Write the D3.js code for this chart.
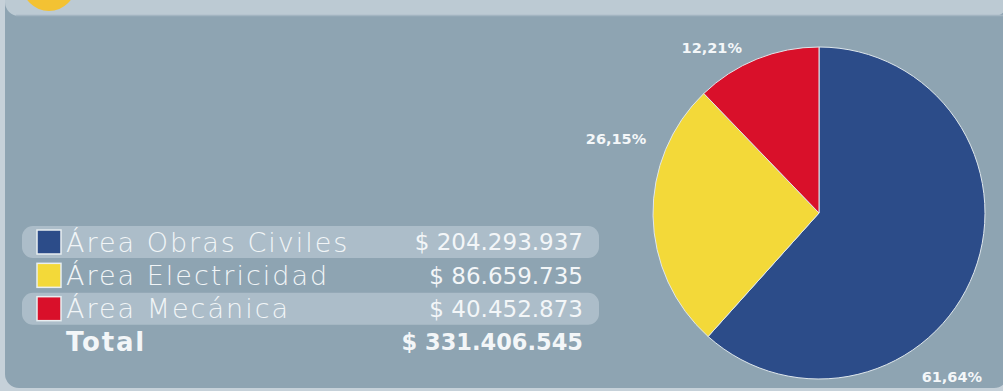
<!DOCTYPE html>
<html>
<head>
<meta charset="utf-8">
<script src="https://cdn.jsdelivr.net/npm/d3@7"></script>
<style>
  body { margin: 0; background: #c9d4db; }
  svg { display: block; }
</style>
</head>
<body>
<div id="container"></div>
<script>
// data
let categories = ["Área Obras Civiles", "Área Electricidad", "Área Mecánica"];
let amounts = [204293937, 86659735, 40452873];
let amountLabels = ["$ 204.293.937", "$ 86.659.735", "$ 40.452.873"];
let percentLabels = ["61,64%", "26,15%", "12,21%"];
let totalLabel = "Total";
let totalAmountLabel = "$ 331.406.545";

let colors = ["#2c4c89", "#f3d939", "#d9102a"];

let W = 1003, H = 391;

let viz = d3.select("#container")
  .append("svg")
    .attr("width", W)
    .attr("height", H)
  ;

// panel + header
viz.append("rect")
    .attr("x", 0).attr("y", 0).attr("width", W).attr("height", H)
    .attr("fill", "#c6d1d9");
viz.append("rect")
    .attr("x", 5).attr("y", -20).attr("width", W).attr("height", 408)
    .attr("rx", 14)
    .attr("fill", "#8ea4b2");
viz.append("rect")
    .attr("x", 5).attr("y", -30).attr("width", W).attr("height", 46)
    .attr("rx", 14)
    .attr("fill", "#bccad3");
viz.append("line")
    .attr("x1", 16).attr("x2", W).attr("y1", 15.5).attr("y2", 15.5)
    .attr("stroke", "#a3b5c1").attr("stroke-width", 1.5);
viz.append("circle")
    .attr("cx", 49).attr("cy", -16).attr("r", 27)
    .attr("fill", "#f3c233");

// pie
let cx = 819, cy = 213, radius = 166;

let pie = d3.pie().sort(null).value(d => d);
let arcs = pie(amounts);
let arc = d3.arc().innerRadius(0).outerRadius(radius);

let pieG = viz.append("g")
    .attr("transform", "translate(" + cx + "," + cy + ")");

pieG.selectAll("path").data(arcs).enter()
  .append("path")
    .attr("d", arc)
    .attr("fill", (d, i) => colors[i])
    .attr("stroke", "#dfe7ec")
    .attr("stroke-width", 1)
  ;

// label placement: rotate from slice middle, then sit outside the rim
let labelNudge = [
  { da: 30, r: 211 },
  { da: 21, r: 216 },
  { da: -11, r: 197 }
];

function labelXY(d, i) {
  let a = (d.startAngle + d.endAngle) / 2 + labelNudge[i].da * Math.PI / 180;
  return [Math.sin(a) * labelNudge[i].r, -Math.cos(a) * labelNudge[i].r];
}

pieG.selectAll("text.pct").data(arcs).enter()
  .append("text")
    .attr("class", "pct")
    .attr("x", (d, i) => labelXY(d, i)[0])
    .attr("y", (d, i) => labelXY(d, i)[1])
    .attr("text-anchor", "middle")
    .attr("dy", "0.35em")
    .attr("font-family", "DejaVu Sans")
    .attr("font-weight", "bold")
    .attr("font-size", 14.5)
    .attr("fill", "#f4f7f9")
    .text((d, i) => percentLabels[i])
  ;

// legend
let rowY = d3.scalePoint()
    .domain(d3.range(categories.length + 1))
    .range([242, 342]);

let legend = viz.append("g");

legend.selectAll("rect.band").data(categories).enter()
  .filter((d, i) => i % 2 == 0)
  .append("rect")
    .attr("class", "band")
    .attr("x", 22)
    .attr("y", (d) => rowY(categories.indexOf(d)) - 16)
    .attr("width", 577)
    .attr("height", 32)
    .attr("rx", 11)
    .attr("fill", "#b2c2cc")
    .attr("opacity", 0.85)
  ;

legend.selectAll("rect.swatch").data(categories).enter()
  .append("rect")
    .attr("class", "swatch")
    .attr("x", 37)
    .attr("y", (d, i) => rowY(i) - 12)
    .attr("width", 24)
    .attr("height", 24)
    .attr("fill", (d, i) => colors[i])
    .attr("stroke", "#e8eef1")
    .attr("stroke-width", 1.5)
  ;

legend.selectAll("text.cat").data(categories).enter()
  .append("text")
    .attr("class", "cat")
    .attr("x", 66)
    .attr("y", (d, i) => rowY(i))
    .attr("dy", "0.36em")
    .attr("font-family", "DejaVu Sans")
    .attr("font-weight", 200)
    .attr("font-size", 27)
    .attr("letter-spacing", 2)
    .attr("fill", "#f1f5f7")
    .text(d => d)
  ;

legend.selectAll("text.amt").data(amountLabels).enter()
  .append("text")
    .attr("class", "amt")
    .attr("x", 583)
    .attr("y", (d, i) => rowY(i))
    .attr("dy", "0.36em")
    .attr("text-anchor", "end")
    .attr("font-family", "DejaVu Sans")
    .attr("font-size", 23)
    .attr("fill", "#f3f6f8")
    .text(d => d)
  ;

legend.append("text")
    .attr("x", 66)
    .attr("y", rowY(categories.length))
    .attr("dy", "0.36em")
    .attr("font-family", "DejaVu Sans")
    .attr("font-weight", "bold")
    .attr("font-size", 26)
    .attr("letter-spacing", 1.8)
    .attr("fill", "#f3f6f8")
    .text(totalLabel);

legend.append("text")
    .attr("x", 583)
    .attr("y", rowY(categories.length))
    .attr("dy", "0.36em")
    .attr("text-anchor", "end")
    .attr("font-family", "DejaVu Sans")
    .attr("font-weight", "bold")
    .attr("font-size", 22.5)
    .attr("fill", "#f3f6f8")
    .text(totalAmountLabel);
</script>
</body>
</html>
